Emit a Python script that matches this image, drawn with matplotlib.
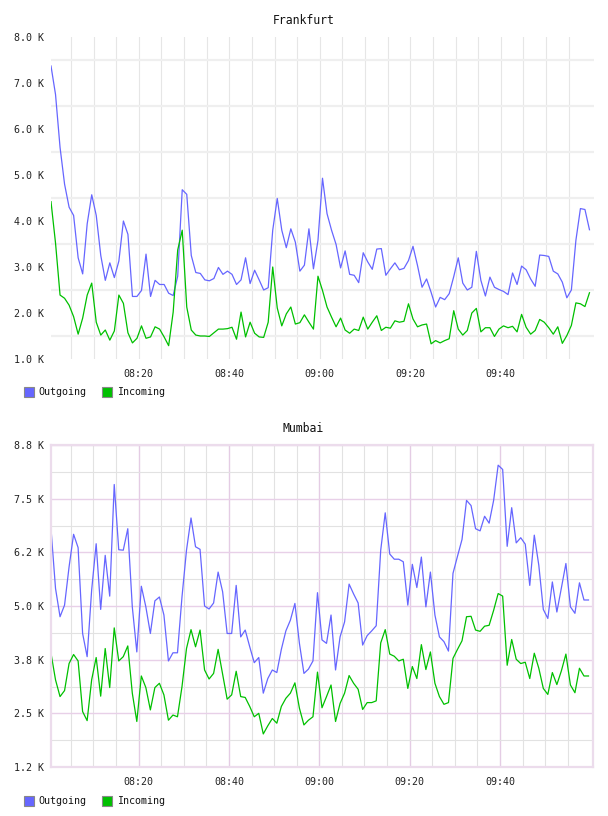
import matplotlib
matplotlib.use("Agg")
import matplotlib.pyplot as plt
from matplotlib.patches import Rectangle
import numpy as np

# ---------------- data (values in thousands) ----------------
start_min = 0.6  # minutes after 08:00 of the first sample
step_min = 1.0

fra_out = [7.37, 6.75, 5.6, 4.8, 4.30, 4.12, 3.20, 2.85, 3.94, 4.57,
           4.12, 3.25, 2.71, 3.09, 2.77, 3.13, 4.0, 3.71, 2.36, 2.36,
           2.49, 3.28, 2.36, 2.71, 2.62, 2.62, 2.43, 2.38, 2.80, 4.68,
           4.58, 3.25, 2.88, 2.86, 2.72, 2.70, 2.75, 2.99, 2.84, 2.91,
           2.84, 2.62, 2.72, 3.20, 2.64, 2.93, 2.72, 2.50, 2.55, 3.80,
           4.49, 3.80, 3.42, 3.83, 3.54, 2.91, 3.04, 3.83, 2.96, 3.58,
           4.93, 4.16, 3.80, 3.49, 2.98, 3.35, 2.84, 2.82, 2.66, 3.31,
           3.11, 2.95, 3.39, 3.40, 2.82, 2.96, 3.09, 2.94, 2.97, 3.14,
           3.45, 3.03, 2.56, 2.74, 2.45, 2.13, 2.34, 2.29, 2.42, 2.79,
           3.20, 2.65, 2.50, 2.56, 3.34, 2.71, 2.37, 2.78, 2.56, 2.51,
           2.47, 2.40, 2.87, 2.62, 3.02, 2.94, 2.74, 2.58, 3.26, 3.25,
           3.23, 2.91, 2.85, 2.67, 2.33, 2.50, 3.58, 4.27, 4.25, 3.81]

fra_in = [4.42, 3.52, 2.39, 2.32, 2.17, 1.92, 1.54, 1.89, 2.39, 2.65,
          1.80, 1.52, 1.63, 1.41, 1.61, 2.39, 2.21, 1.57, 1.35, 1.45,
          1.72, 1.45, 1.48, 1.70, 1.65, 1.48, 1.29, 2.02, 3.37, 3.80,
          2.13, 1.63, 1.52, 1.50, 1.50, 1.49, 1.57, 1.65, 1.65, 1.66,
          1.69, 1.43, 2.02, 1.48, 1.80, 1.56, 1.48, 1.47, 1.80, 3.00,
          2.11, 1.72, 1.98, 2.13, 1.76, 1.79, 1.96, 1.80, 1.65, 2.80,
          2.49, 2.13, 1.91, 1.70, 1.89, 1.63, 1.56, 1.65, 1.62, 1.91,
          1.65, 1.80, 1.94, 1.62, 1.69, 1.67, 1.83, 1.80, 1.82, 2.20,
          1.87, 1.70, 1.74, 1.76, 1.33, 1.40, 1.35, 1.40, 1.44, 2.05,
          1.65, 1.52, 1.62, 2.00, 2.10, 1.59, 1.68, 1.68, 1.49, 1.65,
          1.72, 1.68, 1.71, 1.59, 1.97, 1.69, 1.54, 1.62, 1.86, 1.80,
          1.68, 1.54, 1.70, 1.34, 1.51, 1.73, 2.22, 2.20, 2.14, 2.44]

mum_out = [6.80, 5.41, 4.75, 5.02, 5.91, 6.67, 6.36, 4.36, 3.82, 5.37,
           6.45, 4.92, 6.18, 5.23, 7.83, 6.31, 6.30, 6.80, 4.98, 3.93,
           5.46, 4.98, 4.36, 5.12, 5.21, 4.79, 3.72, 3.91, 3.91, 5.21,
           6.30, 7.05, 6.38, 6.32, 5.00, 4.93, 5.07, 5.79, 5.33, 4.36,
           4.36, 5.48, 4.28, 4.44, 4.05, 3.68, 3.80, 2.97, 3.31, 3.51,
           3.45, 3.99, 4.42, 4.67, 5.06, 4.13, 3.43, 3.53, 3.72, 5.31,
           4.21, 4.13, 4.79, 3.51, 4.28, 4.63, 5.51, 5.28, 5.07, 4.09,
           4.31, 4.42, 4.54, 6.30, 7.17, 6.21, 6.09, 6.09, 6.03, 5.02,
           5.97, 5.43, 6.14, 4.98, 5.79, 4.79, 4.28, 4.17, 3.95, 5.76,
           6.16, 6.55, 7.46, 7.34, 6.80, 6.75, 7.09, 6.93, 7.46, 8.28,
           8.18, 6.39, 7.29, 6.47, 6.59, 6.44, 5.48, 6.65, 5.95, 4.92,
           4.71, 5.56, 4.86, 5.42, 5.99, 4.98, 4.83, 5.54, 5.14, 5.14]

mum_in = [3.90, 3.28, 2.89, 3.03, 3.66, 3.87, 3.72, 2.54, 2.33, 3.28,
          3.80, 2.90, 4.01, 3.10, 4.49, 3.72, 3.82, 4.07, 2.97, 2.31,
          3.37, 3.10, 2.58, 3.10, 3.20, 2.93, 2.34, 2.46, 2.42, 3.12,
          4.01, 4.45, 4.05, 4.44, 3.51, 3.30, 3.43, 3.99, 3.41, 2.83,
          2.93, 3.48, 2.89, 2.87, 2.66, 2.42, 2.50, 2.02, 2.21, 2.38,
          2.27, 2.66, 2.85, 2.97, 3.21, 2.62, 2.23, 2.34, 2.42, 3.46,
          2.63, 2.89, 3.16, 2.31, 2.73, 2.97, 3.38, 3.20, 3.06, 2.59,
          2.75, 2.75, 2.79, 4.14, 4.45, 3.88, 3.83, 3.72, 3.76, 3.08,
          3.59, 3.31, 4.10, 3.52, 3.93, 3.20, 2.89, 2.71, 2.75, 3.78,
          3.99, 4.19, 4.75, 4.76, 4.44, 4.41, 4.53, 4.55, 4.90, 5.29,
          5.23, 3.62, 4.22, 3.76, 3.66, 3.69, 3.31, 3.90, 3.55, 3.08,
          2.94, 3.45, 3.17, 3.49, 3.88, 3.16, 2.98, 3.55, 3.37, 3.37]

x_tick_minutes = [20, 40, 60, 80, 100]
x_tick_labels = ["08:20", "08:40", "09:00", "09:20", "09:40"]

fra_yticks = [1.0, 2.0, 3.0, 4.0, 5.0, 6.0, 7.0, 8.0]
fra_ylabels = ["1.0 K", "2.0 K", "3.0 K", "4.0 K", "5.0 K", "6.0 K", "7.0 K", "8.0 K"]
mum_yticks = [1.25, 2.5, 3.75, 5.0, 6.25, 7.5, 8.75]
mum_ylabels = ["1.2 K", "2.5 K", "3.8 K", "5.0 K", "6.2 K", "7.5 K", "8.8 K"]

series_names = ["Outgoing", "Incoming"]
series_colors = ["#6666ff", "#00c000"]

# ---------------- figure ----------------
W, H = 608, 816
fig = plt.figure(figsize=(W / 100, H / 100), dpi=100)
mono = "DejaVu Sans Mono"

def px_axes(l, t, r, b):
    return fig.add_axes([l / W, 1 - b / H, (r - l) / W, (b - t) / H])

t = start_min + step_min * np.arange(len(fra_out))
xlim = (0.6, 120.6)

def setup(ax, yticks, ylabels, ylim, style):
    ax.set_xlim(*xlim)
    ax.set_ylim(*ylim)
    ax.set_yticks(yticks)
    ax.set_yticklabels(ylabels, family=mono, fontsize=7.2, color="#222222")
    ax.set_xticks(x_tick_minutes)
    ax.set_xticklabels(x_tick_labels, family=mono, fontsize=7.2, color="#222222")
    ax.tick_params(axis="y", length=0, pad=5)
    ax.tick_params(axis="x", length=0, pad=7)
    ax.set_axisbelow(True)
    fives = np.arange(5, 120, 5)
    if style == "plain":
        for s in ax.spines.values():
            s.set_visible(False)
        for m in fives:
            ax.axvline(m, color="#e6e6e6", lw=0.8, zorder=0)
        for v in np.arange(1.5, 8.0, 1.0):
            ax.axhline(v, color="#efefef", lw=1.6, zorder=0)
    else:
        for s in ax.spines.values():
            s.set_color("#ecdcec")
            s.set_linewidth(1.6)
        for m in fives:
            if m % 20 == 0:
                ax.axvline(m, color="#e4cce4", lw=1.0, zorder=0)
            else:
                ax.axvline(m, color="#e2e2e2", lw=0.8, zorder=0)
        for v in np.arange(1.25, 8.76, 0.625):
            if abs((v / 1.25) - round(v / 1.25)) < 1e-6:
                ax.axhline(v, color="#e8d0e8", lw=1.0, zorder=0)
            else:
                ax.axhline(v, color="#e2e2e2", lw=0.8, zorder=0)

ax1 = px_axes(51, 37, 594, 359)
setup(ax1, fra_yticks, fra_ylabels, (1.0, 8.0), "plain")
ax1.plot(t, fra_out, color=series_colors[0], lw=0.9)
ax1.plot(t, fra_in, color=series_colors[1], lw=0.9)

ax2 = px_axes(51, 445, 593, 767)
setup(ax2, mum_yticks, mum_ylabels, (1.25, 8.75), "grid")
ax2.plot(t, mum_out, color=series_colors[0], lw=0.9)
ax2.plot(t, mum_in, color=series_colors[1], lw=0.9)

fig.text(304 / W, 1 - 20.5 / H, "Frankfurt", family=mono, fontsize=8.3,
         ha="center", va="center", color="#111111")
fig.text(303 / W, 1 - 428.5 / H, "Mumbai", family=mono, fontsize=8.3,
         ha="center", va="center", color="#111111")

def legend(ycenter):
    xs = [(24, 38.5), (102, 117.5)]
    for (sx, tx), name, col in zip(xs, series_names, series_colors):
        fig.add_artist(Rectangle((sx / W, 1 - (ycenter + 5) / H), 10 / W, 10 / H,
                                 transform=fig.transFigure, facecolor=col,
                                 edgecolor="#888888", lw=0.8))
        fig.text(tx / W, 1 - ycenter / H, name, family=mono, fontsize=7.2,
                 ha="left", va="center", color="#111111")

legend(392)
legend(800.5)

fig.savefig("out.png", dpi=100)
